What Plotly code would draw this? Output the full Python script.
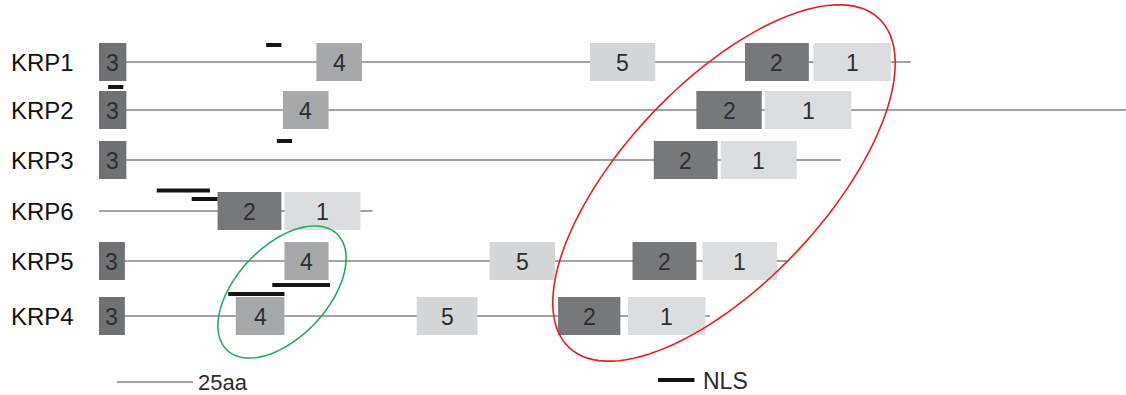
import numpy as np
import plotly.graph_objects as go

# ---- data (positions in amino acids) ----
proteins = ["KRP1", "KRP2", "KRP3", "KRP6", "KRP5", "KRP4"]
protein_length = [267, 340, 244, 90, 226.5, 201]

domain_ids = [
    [3, 4, 5, 2, 1],
    [3, 4, 2, 1],
    [3, 2, 1],
    [2, 1],
    [3, 4, 5, 2, 1],
    [3, 4, 5, 2, 1],
]
domain_start = [
    [0, 71.5, 161.5, 212.5, 235],
    [0, 60.5, 196.5, 219],
    [0, 182.5, 204.5],
    [39, 61],
    [0, 61, 128.5, 175.5, 198.5],
    [0, 45, 104.5, 151, 174],
]
domain_end = [
    [9, 86.5, 183, 233.5, 260.5],
    [9, 75.5, 218, 247.5],
    [9, 203.5, 229.5],
    [60, 86],
    [8.5, 75.5, 150, 196.5, 223],
    [8.5, 61, 124.5, 171.5, 199.5],
]

nls_protein = ["KRP1", "KRP2", "KRP3", "KRP6", "KRP6", "KRP5", "KRP4"]
nls_start = [55, 3, 58.5, 19, 30.5, 57, 42.5]
nls_end = [60, 8, 63.5, 36.5, 39, 76, 61]

scale_bar_aa = 25

# ---- layout helpers ----
W, H = 1126, 395
X0_PX = 99          # pixel where residue 0 sits
PX_PER_AA = 3.04
row_y = [62, 110, 160, 211, 261, 316]
box_half = 19
nls_dy = [-17, -23, -19, -20.5, -12, 24, -22]

domain_color = {1: "#dcdddf", 2: "#77787a", 3: "#707173", 4: "#a7a8aa", 5: "#d5d6d8"}
line_color = "#a3a3a5"
nls_color = "#141414"
font = "Liberation Sans, Arial, sans-serif"


def px_to_aa(px):
    return (px - X0_PX) / PX_PER_AA


fig = go.Figure()
shapes = []
annotations = []

# backbone lines
for i, name in enumerate(proteins):
    shapes.append(dict(type="line", xref="x", yref="y", x0=0, x1=protein_length[i],
                       y0=row_y[i], y1=row_y[i], line=dict(color=line_color, width=2.2),
                       layer="below"))

# domain boxes with numbers
for i, name in enumerate(proteins):
    for d, s, e in zip(domain_ids[i], domain_start[i], domain_end[i]):
        shapes.append(dict(type="rect", xref="x", yref="y", x0=s, x1=e,
                           y0=row_y[i] - box_half, y1=row_y[i] + box_half,
                           fillcolor=domain_color[d], line=dict(width=0), layer="below"))
        annotations.append(dict(x=(s + e) / 2, y=row_y[i] + 1, xref="x", yref="y",
                                text=str(d), showarrow=False,
                                font=dict(family=font, size=23, color="#2e2e30")))
    annotations.append(dict(x=9 / W, y=row_y[i], xref="paper", yref="y",
                            text=name, showarrow=False, xanchor="left",
                            font=dict(family=font, size=24, color="#111111")))

# NLS motifs
for k, name in enumerate(nls_protein):
    yy = row_y[proteins.index(name)] + nls_dy[k]
    shapes.append(dict(type="rect", xref="x", yref="y", x0=nls_start[k], x1=nls_end[k],
                       y0=yy - 2, y1=yy + 2, fillcolor=nls_color, line=dict(width=0)))

# scale bar and NLS key
sb0 = px_to_aa(117)
shapes.append(dict(type="line", xref="x", yref="y", x0=sb0, x1=sb0 + scale_bar_aa,
                   y0=382, y1=382, line=dict(color=line_color, width=2)))
annotations.append(dict(x=sb0 + scale_bar_aa + 1, y=382, xref="x", yref="y",
                        text=f"{scale_bar_aa}aa", showarrow=False, xanchor="left",
                        font=dict(family=font, size=22, color="#2b2b2d")))
k0 = px_to_aa(658)
shapes.append(dict(type="rect", xref="x", yref="y", x0=k0, x1=k0 + 12,
                   y0=378, y1=382, fillcolor=nls_color, line=dict(width=0)))
annotations.append(dict(x=k0 + 14, y=381, xref="x", yref="y",
                        text="NLS", showarrow=False, xanchor="left",
                        font=dict(family=font, size=23, color="#2b2b2d")))


# highlight ellipses (built in pixel space, mapped to axis units)
def ellipse_path(cx, cy, a, b, theta_deg, n=120):
    t = np.linspace(0, 2 * np.pi, n, endpoint=False)
    th = np.deg2rad(theta_deg)
    xs = cx + a * np.cos(th) * np.cos(t) - b * np.sin(th) * np.sin(t)
    ys = cy + a * np.sin(th) * np.cos(t) + b * np.cos(th) * np.sin(t)
    pts = [f"{px_to_aa(x):.3f},{y:.3f}" for x, y in zip(xs, ys)]
    return "M " + " L ".join(pts) + " Z"


shapes.append(dict(type="path", xref="x", yref="y",
                   path=ellipse_path(724, 183, 226, 100, -46.7),
                   line=dict(color="#ee1d1d", width=1.6)))
shapes.append(dict(type="path", xref="x", yref="y",
                   path=ellipse_path(282, 292, 80, 45.5, -46.7),
                   line=dict(color="#25ad5a", width=1.6)))

fig.update_layout(
    width=W, height=H,
    margin=dict(l=0, r=0, t=0, b=0),
    paper_bgcolor="white", plot_bgcolor="white",
    shapes=shapes, annotations=annotations,
    showlegend=False,
    xaxis=dict(range=[px_to_aa(0), px_to_aa(W)], visible=False, fixedrange=True),
    yaxis=dict(range=[H, 0], visible=False, fixedrange=True),
)

fig.write_html("out.html")
